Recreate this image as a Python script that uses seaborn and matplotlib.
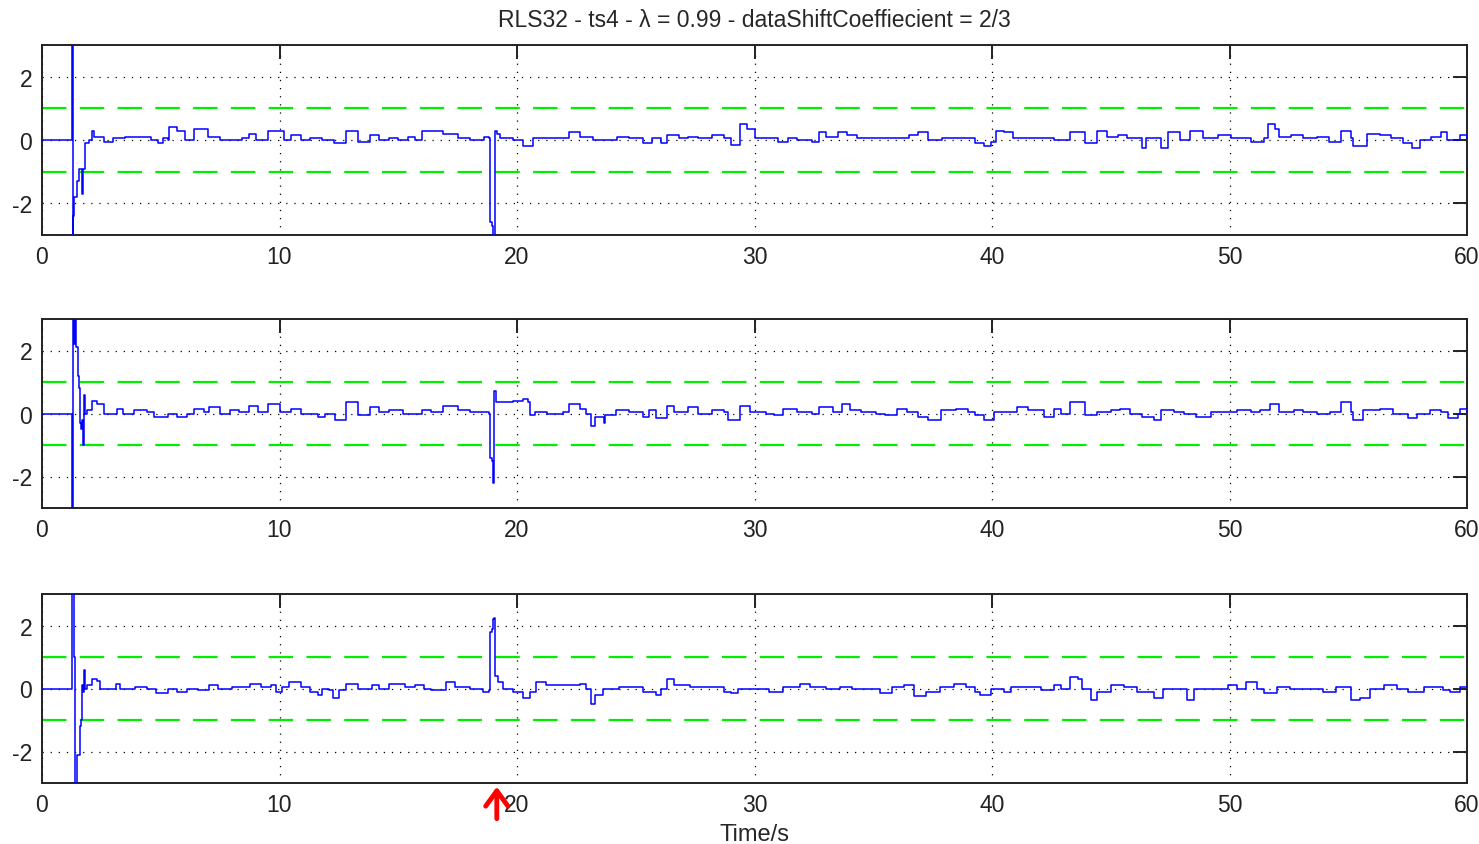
import matplotlib
matplotlib.use("Agg")
import matplotlib.pyplot as plt
import seaborn as sns
import pandas as pd

# ---------------- data ----------------
t1 = [0, 1.27, 1.275, 1.285, 1.30, 1.32, 1.36, 1.42, 1.47, 1.55, 1.65, 1.70, 1.73, 1.80, 1.96, 2.1, 2.2,
      2.6, 3.0, 3.5, 3.9, 4.3, 4.6, 4.9, 5.1, 5.3, 5.35, 5.7, 6.0, 6.4, 6.7, 7.0, 7.5, 8.0, 8.4, 8.7, 9.0,
      9.3, 9.5, 9.7, 10.2, 10.5, 10.9, 11.3, 11.8, 12.3, 12.8, 13.0, 13.3, 13.8, 14.2, 14.6, 15.0, 15.4,
      15.7, 16.0, 16.3, 16.9, 17.5, 18.0, 18.6, 18.84, 18.86, 18.95, 19.0, 19.06, 19.08, 19.15, 19.28,
      19.84, 20.25, 20.68, 21.2, 21.7, 22.1, 22.2, 22.65, 23.2, 23.7, 24.2, 24.7, 25.3, 25.7, 26.05, 26.3,
      26.8, 27.2, 27.6, 28.2, 28.7, 29.0, 29.2, 29.4, 29.7, 30.0, 30.5, 31.0, 31.4, 31.8, 32.4, 32.7, 33.0,
      33.5, 33.9, 34.3, 34.8, 35.4, 35.9, 36.5, 36.9, 37.3, 37.9, 38.5, 39.0, 39.3, 39.66, 39.94, 40.15,
      40.5, 40.9, 41.5, 41.9, 42.6, 43.3, 43.7, 43.9, 44.4, 44.85, 45.3, 45.7, 46.3, 46.5, 47.1, 47.4,
      47.9, 48.35, 48.9, 49.5, 50.05, 50.9, 51.45, 51.6, 51.9, 52.1, 52.6, 53.1, 53.7, 54.2, 54.7, 55.1,
      55.2, 55.8, 56.35, 56.8, 57.3, 57.7, 58.0, 58.5, 58.9, 59.15, 59.6, 59.7, 60.0]
y1 = [0, 0, 5, -4, -0.5, -2.4, -1.8, -1.8, -1.3, -0.9, -0.9, -1.7, -0.9, -0.1, 0.0, 0.3, 0.1,
      -0.05, 0.05, 0.1, 0.1, 0.1, 0.0, -0.1, 0.05, 0.0, 0.4, 0.3, 0.0, 0.35, 0.35, 0.1, 0.0, 0.0, 0.05, 0.2, 0.0,
      0.0, 0.3, 0.3, 0.0, 0.15, 0.0, 0.05, 0.0, -0.1, 0.3, 0.3, -0.05, 0.15, 0.0, 0.05, 0.0, 0.1,
      0.0, 0.3, 0.3, 0.2, 0.05, 0.0, 0.1, 0.05, -2.6, -2.7, -3.2, -3.2, 0.3, 0.2, 0.05,
      0.0, -0.2, 0.05, 0.05, 0.05, 0.05, 0.25, 0.1, 0.0, 0.0, 0.1, 0.05, -0.1, 0.05, -0.1, 0.15,
      0.05, 0.1, 0.05, 0.15, 0.05, -0.15, -0.15, 0.5, 0.35, 0.05, 0.05, -0.05, 0.05, 0.0, -0.05, 0.25, 0.1,
      0.25, 0.15, 0.05, 0.05, 0.05, 0.05, 0.15, 0.25, 0.0, 0.05, 0.05, 0.05, -0.1, -0.2, -0.05, 0.3,
      0.25, 0.05, 0.05, 0.05, 0.0, 0.25, 0.25, -0.1, 0.3, 0.1, 0.15, 0.05, -0.25, 0.05, -0.25, 0.25,
      0.0, 0.3, 0.05, 0.15, 0.05, -0.05, 0.05, 0.5, 0.35, 0.1, 0.15, 0.05, 0.1, -0.05, 0.3, 0.05,
      -0.2, 0.2, 0.15, 0.05, -0.1, -0.25, 0.0, 0.1, 0.25, 0.0, 0.0, 0.15, 0.05]

t2 = [0, 1.27, 1.275, 1.285, 1.30, 1.32, 1.36, 1.40, 1.45, 1.50, 1.55, 1.62, 1.66, 1.70, 1.72, 1.76, 1.80,
      1.9, 2.1, 2.3, 2.6, 3.16, 3.4, 3.87, 4.4, 4.7, 5.3, 5.7, 6.1, 6.4, 6.8, 7.05, 7.5, 7.9, 8.3, 8.7,
      9.1, 9.5, 9.8, 10.0, 10.5, 10.9, 11.6, 11.9, 12.35, 12.8, 13.1, 13.3, 13.8, 14.2, 14.6, 15.2, 16.0,
      16.4, 16.9, 17.5, 18.0, 18.4, 18.84, 18.86, 18.95, 19.0, 19.03, 19.05, 19.1, 19.84, 20.25, 20.45,
      20.55, 20.75, 21.25, 21.95, 22.2, 22.65, 22.9, 23.1, 23.3, 23.65, 23.7, 24.15, 24.7, 25.3, 25.55,
      25.85, 26.3, 26.6, 27.2, 27.6, 28.2, 28.7, 28.9, 29.4, 29.8, 30.5, 30.8, 31.2, 31.8, 32.4, 32.7,
      33.3, 33.7, 34.0, 34.5, 35.1, 35.5, 36.0, 36.4, 36.9, 37.3, 37.85, 38.5, 39.0, 39.3, 39.66, 40.1,
      40.5, 41.05, 41.5, 42.2, 42.6, 42.9, 43.3, 43.7, 43.9, 44.4, 45.0, 45.4, 45.8, 46.3, 46.8, 47.1,
      47.65, 48.1, 48.6, 49.2, 50.05, 50.3, 50.9, 51.3, 51.7, 52.1, 52.7, 53.1, 53.7, 54.25, 54.7, 55.1,
      55.2, 55.6, 56.35, 56.9, 57.5, 57.9, 58.45, 58.9, 59.2, 59.6, 59.7, 60.0]
y2 = [0, 0, -3.5, 3.5, -2.1, 3.5, 2.2, 3.0, 2.1, 1.2, 0.8, -0.3, -0.5, -0.2, -1.0, 0.6, 0.0,
      0.1, 0.4, 0.3, 0.0, 0.15, 0.0, 0.1, 0.05, -0.1, 0.0, -0.1, 0.0, 0.15, 0.05, 0.2, 0.0, 0.1, 0.05, 0.25,
      0.05, 0.3, 0.3, 0.05, 0.15, 0.0, -0.1, 0.0, -0.2, 0.35, 0.35, -0.05, 0.2, 0.05, 0.1, 0.0, 0.1,
      0.05, 0.25, 0.1, 0.05, 0.05, 0.0, -1.4, -1.5, -2.2, -2.2, 0.7, 0.35, 0.4, 0.45, 0.35,
      -0.05, 0.05, 0.0, 0.05, 0.3, 0.15, 0.0, -0.4, -0.1, -0.3, -0.05, 0.1, 0.05, -0.1, 0.1,
      -0.15, 0.25, 0.05, 0.2, 0.0, 0.1, 0.05, -0.2, 0.25, 0.05, 0.0, -0.05, 0.15, 0.05, 0.0, 0.2,
      0.05, 0.3, 0.1, 0.05, 0.0, -0.05, 0.15, 0.05, -0.1, -0.2, 0.1, 0.15, 0.05, -0.05, -0.2, 0.05,
      0.05, 0.2, 0.1, -0.1, 0.15, 0.0, 0.35, 0.35, -0.05, 0.05, 0.1, 0.15, 0.0, -0.1, -0.2, 0.1,
      0.05, 0.0, -0.1, 0.05, 0.05, 0.1, 0.05, 0.1, 0.3, 0.05, 0.1, 0.05, 0.0, 0.05, 0.35, 0.05,
      -0.2, 0.1, 0.15, 0.0, -0.15, 0.0, 0.1, 0.05, -0.15, 0.0, 0.15, 0.05]

t3 = [0, 1.27, 1.28, 1.33, 1.36, 1.40, 1.44, 1.48, 1.58, 1.62, 1.66, 1.70, 1.74, 1.78, 1.82, 1.9, 2.1,
      2.3, 2.46, 2.9, 3.1, 3.3, 3.9, 4.4, 4.8, 5.3, 5.7, 6.1, 6.55, 7.05, 7.4, 8.0, 8.4, 8.75, 9.2, 9.65,
      9.87, 10.1, 10.4, 10.65, 10.9, 11.3, 11.6, 11.8, 12.1, 12.27, 12.5, 12.8, 13.0, 13.3, 13.75, 13.9,
      14.2, 14.6, 14.9, 15.3, 15.7, 16.1, 16.4, 17.0, 17.4, 18.0, 18.55, 18.84, 18.87, 18.95, 19.0, 19.05,
      19.08, 19.2, 19.4, 19.84, 20.25, 20.55, 20.8, 21.2, 21.95, 22.65, 22.9, 23.1, 23.3, 23.6, 24.3, 24.85,
      25.3, 25.85, 26.05, 26.3, 26.6, 27.3, 28.2, 28.7, 29.0, 29.3, 29.8, 30.2, 30.6, 31.2, 31.9, 32.35,
      33.0, 33.6, 34.1, 34.7, 35.3, 35.8, 36.3, 36.7, 37.2, 37.8, 38.4, 38.9, 39.3, 39.5, 39.95, 40.5,
      40.8, 41.35, 42.05, 42.6, 42.9, 43.3, 43.6, 43.8, 44.15, 44.4, 45.0, 45.55, 46.1, 46.8, 47.2, 47.8,
      48.2, 48.5, 49.05, 49.6, 49.95, 50.3, 50.7, 51.15, 51.45, 52.0, 52.55, 53.1, 53.95, 54.5, 54.95,
      55.1, 55.5, 55.9, 56.5, 57.05, 57.5, 58.2, 58.6, 59.0, 59.3, 59.7, 60.0]
y3 = [0, 0, 3.5, 3.5, 1.0, -3.5, -3.5, -2.1, -2.1, -1.2, -1.0, 0.1, -0.1, 0.6, 0.0, 0.1, 0.3,
      0.25, 0.0, 0.0, 0.15, 0.0, 0.05, 0.0, -0.15, 0.0, -0.1, 0.0, -0.05, 0.1, 0.0, 0.05, 0.05, 0.15, 0.05, 0.1,
      -0.1, 0.05, 0.2, 0.2, 0.05, -0.1, -0.2, 0.0, -0.05, -0.3, -0.05, 0.15, 0.15, 0.0, 0.0, 0.1,
      0.0, 0.15, 0.15, 0.05, 0.1, 0.0, -0.05, 0.2, 0.05, 0.0, -0.1, -0.05, 1.8, 1.9, 2.2, 2.25,
      0.4, 0.2, 0.0, -0.1, -0.3, -0.1, 0.2, 0.1, 0.1, 0.15, 0.0, -0.5, -0.2, 0.0, 0.05, 0.05,
      -0.1, -0.2, 0.0, 0.3, 0.1, 0.05, 0.05, -0.1, -0.15, 0.0, 0.0, 0.0, -0.1, 0.05, 0.15, 0.05,
      0.0, 0.05, 0.0, 0.0, -0.15, 0.05, 0.1, -0.25, -0.1, 0.05, 0.15, 0.05, -0.1, -0.2, 0.0, -0.1,
      0.05, 0.05, -0.05, 0.1, 0.0, 0.35, 0.3, 0.0, -0.35, -0.1, 0.1, 0.05, -0.1, -0.3, 0.0, 0.0,
      -0.35, 0.0, 0.0, 0.0, 0.1, 0.0, 0.2, 0.0, -0.15, 0.05, 0.0, 0.0, -0.1, 0.05, 0.05,
      -0.35, -0.3, 0.0, 0.1, 0.0, -0.1, 0.05, 0.05, -0.05, -0.1, 0.05, 0.05]

series = [(t1, y1), (t2, y2), (t3, y3)]
title = "RLS32 - ts4 - \u03bb = 0.99 - dataShiftCoeffiecient = 2/3"
xticks = [0, 10, 20, 30, 40, 50, 60]
yticks = [-2, 0, 2]
limits = [-1, 1]
event_time = 19.15

# ---------------- figure ----------------
sns.set_style("white")
plt.rcParams['font.family'] = ['Liberation Sans', 'DejaVu Sans']
plt.rcParams['axes.unicode_minus'] = False

W, H = 1479, 845
fig = plt.figure(figsize=(W / 100, H / 100), dpi=100)
left, right = 42 / W, 1467 / W
tops = [46, 320, 595]
bottoms = [236, 509, 784]

axes = []
for i, (tt, yy) in enumerate(series):
    ax = fig.add_axes([left, 1 - bottoms[i] / H, right - left, (bottoms[i] - tops[i]) / H])
    axes.append(ax)
    df = pd.DataFrame({"t": tt, "y": yy})
    sns.lineplot(data=df, x="t", y="y", ax=ax, color="#0000ff", linewidth=1.1,
                 estimator=None, sort=False, drawstyle="steps-post", zorder=3)
    for lv in limits:
        ax.axhline(lv, color="#00ee00", linewidth=1.6, linestyle=(0, (11, 6)), zorder=2)
    ax.set_xlim(0, 60)
    ax.set_ylim(-3, 3)
    ax.set_xticks(xticks)
    ax.set_yticks(yticks)
    ax.grid(True, color="black", linestyle=(0, (1, 5.5)), linewidth=0.9)
    ax.tick_params(direction="in", length=10, width=1.4, top=True, right=True,
                   labelsize=16.5, pad=7, colors="#222222")
    for sp in ax.spines.values():
        sp.set_linewidth(1.4)
        sp.set_color("#222222")
    ax.set_xlabel("")
    ax.set_ylabel("")

axes[0].set_title(title, fontsize=16.5, pad=14)
axes[2].set_xlabel("Time/s", fontsize=17, labelpad=5)

axes[2].annotate("", xy=(event_time, -3.03), xytext=(event_time, -4.22),
                 xycoords="data", textcoords="data", annotation_clip=False,
                 arrowprops=dict(arrowstyle="->,head_length=0.55,head_width=0.4",
                                 color="red", lw=3.5, mutation_scale=20))

fig.savefig("out.png", dpi=100)
